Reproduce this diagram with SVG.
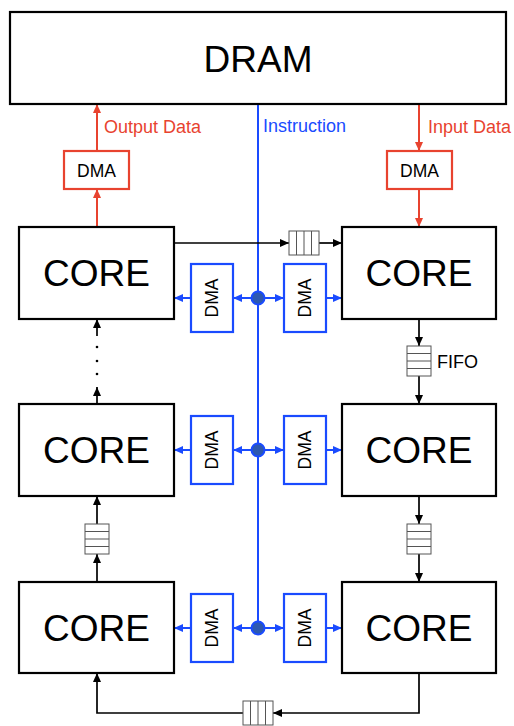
<svg xmlns="http://www.w3.org/2000/svg" width="514" height="726" viewBox="0 0 514 726">
  <style>
    text { font-family: "Liberation Sans", Arial, sans-serif; fill: #000; }
    .box { fill: #fff; stroke: #000; stroke-width: 2.2; }
    .core-label { font-size: 37px; text-anchor: middle; }
    .dram-label { font-size: 37px; text-anchor: middle; }
    .rdma { fill: #fff; stroke: #E8432F; stroke-width: 2.2; }
    .bdma { fill: #fff; stroke: #1A4BFF; stroke-width: 2.2; }
    .dma-label { font-size: 17.5px; text-anchor: middle; }
    .fifo { fill: #fff; stroke: #555; stroke-width: 1; }
    .wire { fill: none; stroke: #000; stroke-width: 1.7; }
    .wire-red { fill: none; stroke: #E8432F; stroke-width: 2; }
    .wire-blue { fill: none; stroke: #1A4BFF; stroke-width: 2; }
    .lbl { font-size: 18px; }
    .hub { fill: #2C58B0; stroke: #1A4BFF; stroke-width: 2; }
  </style>
  <defs>
    <marker id="arrowK" markerUnits="userSpaceOnUse" markerWidth="9" markerHeight="8" refX="9" refY="4" orient="auto">
      <path d="M0,0 L9,4 L0,8 z" fill="#000"/>
    </marker>
    <marker id="arrowR" markerUnits="userSpaceOnUse" markerWidth="9" markerHeight="8" refX="9" refY="4" orient="auto">
      <path d="M0,0 L9,4 L0,8 z" fill="#E8432F"/>
    </marker>
    <marker id="arrowB" markerUnits="userSpaceOnUse" markerWidth="9" markerHeight="8" refX="9" refY="4" orient="auto">
      <path d="M0,0 L9,4 L0,8 z" fill="#1A4BFF"/>
    </marker>
    <g id="fifoH">
      <rect class="fifo" x="0" y="0" width="30" height="24"/>
      <path class="fifo" d="M7.5,0 V24 M15,0 V24 M22.5,0 V24"/>
    </g>
    <g id="fifoV">
      <rect class="fifo" x="0" y="0" width="24" height="30"/>
      <path class="fifo" d="M0,7.5 H24 M0,15 H24 M0,22.5 H24"/>
    </g>
  </defs>

  <!-- connectors -->
  <g id="connectors">
    <!-- instruction bus -->
    <path class="wire-blue" d="M258,104 V635"/>
    <!-- DRAM <-> edge cores through DMA -->
    <path class="wire-red" d="M97,151 V104" marker-end="url(#arrowR)"/>
    <path class="wire-red" d="M97,227 V189" marker-end="url(#arrowR)"/>
    <path class="wire-red" d="M419,104 V151" marker-end="url(#arrowR)"/>
    <path class="wire-red" d="M419,189 V227" marker-end="url(#arrowR)"/>
    <!-- instruction fan-out to each core -->
    <path class="wire-blue" d="M251,298 H233" marker-end="url(#arrowB)"/>
    <path class="wire-blue" d="M265,298 H284" marker-end="url(#arrowB)"/>
    <path class="wire-blue" d="M191,298 H174" marker-end="url(#arrowB)"/>
    <path class="wire-blue" d="M326,298 H342" marker-end="url(#arrowB)"/>
    <path class="wire-blue" d="M251,450 H233" marker-end="url(#arrowB)"/>
    <path class="wire-blue" d="M265,450 H284" marker-end="url(#arrowB)"/>
    <path class="wire-blue" d="M191,450 H174" marker-end="url(#arrowB)"/>
    <path class="wire-blue" d="M326,450 H342" marker-end="url(#arrowB)"/>
    <path class="wire-blue" d="M251,628 H233" marker-end="url(#arrowB)"/>
    <path class="wire-blue" d="M265,628 H284" marker-end="url(#arrowB)"/>
    <path class="wire-blue" d="M191,628 H174" marker-end="url(#arrowB)"/>
    <path class="wire-blue" d="M326,628 H342" marker-end="url(#arrowB)"/>
    <!-- core-to-core data ring -->
    <path class="wire" d="M174,243 H289" marker-end="url(#arrowK)"/>
    <path class="wire" d="M319,243 H342" marker-end="url(#arrowK)"/>
    <path class="wire" d="M419,319 V346" marker-end="url(#arrowK)"/>
    <path class="wire" d="M419,376 V404" marker-end="url(#arrowK)"/>
    <path class="wire" d="M419,496 V524" marker-end="url(#arrowK)"/>
    <path class="wire" d="M419,554 V582" marker-end="url(#arrowK)"/>
    <path class="wire" d="M419,673 V713 H273" marker-end="url(#arrowK)"/>
    <path class="wire" d="M243,713 H97 V673" marker-end="url(#arrowK)"/>
    <path class="wire" d="M97,582 V554" marker-end="url(#arrowK)"/>
    <path class="wire" d="M97,524 V496" marker-end="url(#arrowK)"/>
    <path class="wire" d="M97,404 V387" marker-end="url(#arrowK)"/>
    <path class="wire" d="M97,336 V319" marker-end="url(#arrowK)"/>
    <circle cx="97" cy="347" r="1.3" fill="#000"/>
    <circle cx="97" cy="361" r="1.3" fill="#000"/>
    <circle cx="97" cy="374" r="1.3" fill="#000"/>
    <!-- bus taps -->
    <circle class="hub" cx="258" cy="298" r="6.5"/>
    <circle class="hub" cx="258" cy="450" r="6.5"/>
    <circle class="hub" cx="258" cy="628" r="6.5"/>
    <!-- labels -->
    <text class="lbl" x="104" y="133" style="fill:#E8432F">Output Data</text>
    <text class="lbl" x="263" y="132" style="fill:#1A4BFF">Instruction</text>
    <text class="lbl" x="428" y="133" style="fill:#E8432F">Input Data</text>
  </g>

  <!-- memory -->
  <g id="dram">
    <rect class="box" x="10" y="12" width="496" height="92"/>
    <text class="dram-label" x="258" y="72">DRAM</text>
  </g>

  <g id="dma-out">
    <rect class="rdma" x="64" y="151" width="65" height="38"/>
    <text class="dma-label" x="96.5" y="176.5">DMA</text>
  </g>
  <g id="dma-in">
    <rect class="rdma" x="387" y="151" width="65" height="38"/>
    <text class="dma-label" x="419.5" y="176.5">DMA</text>
  </g>

  <!-- cores -->
  <g id="core-l1">
    <rect class="box" x="19" y="227" width="155" height="92"/>
    <text class="core-label" x="96.5" y="286">CORE</text>
  </g>
  <g id="core-r1">
    <rect class="box" x="342" y="227" width="154" height="92"/>
    <text class="core-label" x="419" y="286">CORE</text>
  </g>
  <g id="core-l2">
    <rect class="box" x="19" y="404" width="155" height="92"/>
    <text class="core-label" x="96.5" y="463">CORE</text>
  </g>
  <g id="core-r2">
    <rect class="box" x="342" y="404" width="154" height="92"/>
    <text class="core-label" x="419" y="463">CORE</text>
  </g>
  <g id="core-l3">
    <rect class="box" x="19" y="582" width="155" height="91"/>
    <text class="core-label" x="96.5" y="641">CORE</text>
  </g>
  <g id="core-r3">
    <rect class="box" x="342" y="582" width="154" height="91"/>
    <text class="core-label" x="419" y="641">CORE</text>
  </g>

  <!-- per-core DMA engines -->
  <g id="dma-l1">
    <rect class="bdma" x="191" y="264" width="42" height="68"/>
    <text class="dma-label" transform="translate(212,298) rotate(-90)" dy="0.36em">DMA</text>
  </g>
  <g id="dma-r1">
    <rect class="bdma" x="284" y="264" width="42" height="68"/>
    <text class="dma-label" transform="translate(305,298) rotate(-90)" dy="0.36em">DMA</text>
  </g>
  <g id="dma-l2">
    <rect class="bdma" x="191" y="416" width="42" height="68"/>
    <text class="dma-label" transform="translate(212,450) rotate(-90)" dy="0.36em">DMA</text>
  </g>
  <g id="dma-r2">
    <rect class="bdma" x="284" y="416" width="42" height="68"/>
    <text class="dma-label" transform="translate(305,450) rotate(-90)" dy="0.36em">DMA</text>
  </g>
  <g id="dma-l3">
    <rect class="bdma" x="191" y="594" width="42" height="68"/>
    <text class="dma-label" transform="translate(212,628) rotate(-90)" dy="0.36em">DMA</text>
  </g>
  <g id="dma-r3">
    <rect class="bdma" x="284" y="594" width="42" height="68"/>
    <text class="dma-label" transform="translate(305,628) rotate(-90)" dy="0.36em">DMA</text>
  </g>

  <!-- FIFO queues -->
  <g id="fifo-top"><use href="#fifoH" x="289" y="231"/></g>
  <g id="fifo-r1">
    <use href="#fifoV" x="407" y="346"/>
    <text class="lbl" x="437" y="368">FIFO</text>
  </g>
  <g id="fifo-r2"><use href="#fifoV" x="407" y="524"/></g>
  <g id="fifo-bottom"><use href="#fifoH" x="243" y="701"/></g>
  <g id="fifo-l"><use href="#fifoV" x="85" y="524"/></g>
</svg>
